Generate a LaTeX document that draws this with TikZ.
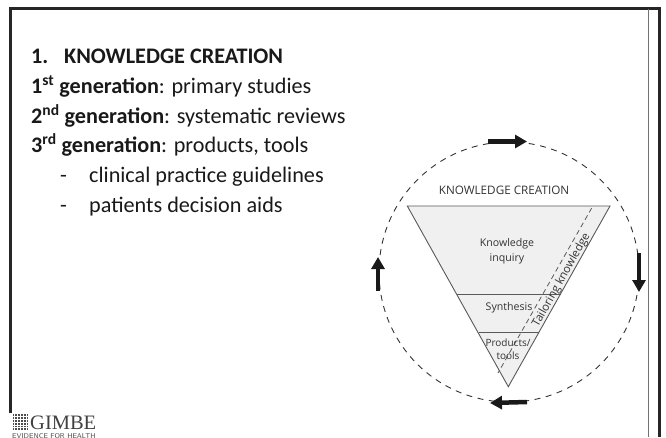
\documentclass[tikz,border=0pt]{standalone}
\usepackage{fontspec}
\setmainfont{Carlito}
\newfontfamily\figfont{Open Sans}
\newfontfamily\logofont{Liberation Serif}
\usetikzlibrary{arrows.meta}
\tikzset{
  x=1pt,y=-1pt,
  body/.style={anchor=base west,inner sep=0pt,font=\fontsize{22.2}{26}\selectfont,text=black!90},
  figlabel/.style={align=center,inner sep=0pt,text=black!80,font=\figfont\fontsize{10.6}{14.5}\selectfont},
  part/.style={draw=black!65,line width=0.9pt},
  flow/.style={line width=4.5pt,-{Triangle[length=12pt,width=13pt]},black!90},
  frame/.style={line width=3pt,black!85}
}
\begin{document}
\begin{tikzpicture}
\useasboundingbox (0,0) rectangle (666,437);
\clip (0,0) rectangle (666,437);
\fill[white] (0,0) rectangle (666,437);
% frame
\draw[frame] (10.5,413) -- (10.5,8.5) -- (659,8.5) -- (659,437);
\draw[black!55,line width=1pt] (648.5,8.5) -- (648.5,437);
% text
\node[body] (t1) at (31,63) {\textbf{1.}};
\node[body] (t1b) at (64,63) {\textbf{KNOWLEDGE CREATION}};
\node[body] (t2) at (31,93) {\textbf{1\textsuperscript{st} generation}: primary studies};
\node[body] (t3) at (31,123) {\textbf{2\textsuperscript{nd} generation}: systematic reviews};
\node[body] (t4) at (31,152) {\textbf{3\textsuperscript{rd} generation}: products, tools};
\node[body] (d1) at (60,182) {-};
\node[body] (t5) at (89,182) {clinical practice guidelines};
\node[body] (d2) at (60,212) {-};
\node[body] (t6) at (89,212) {patients decision aids};
% circle
\coordinate (c) at (509,272);
\draw[black!80,line width=0.9pt,dash pattern=on 6pt off 5.5pt] (c) circle[radius=130];
% triangle
\coordinate (tl) at (407.3,206);
\coordinate (tr) at (610,206);
\coordinate (ap) at (508.3,386.7);
\filldraw[fill=black!6,draw=black!65,line width=0.9pt] (tl) -- (tr) -- (ap) -- cycle;
\coordinate (a1) at (457,294); \coordinate (a2) at (560.5,294);
\coordinate (b1) at (479,332); \coordinate (b2) at (539,332);
\draw[part] (a1) -- (a2);
\draw[part] (b1) -- (b2);
\coordinate (d0) at (591.7,208); \coordinate (d3) at (498,373);
\draw[black!65,line width=0.8pt,dash pattern=on 5pt off 3.5pt] (d0) -- (d3);
% labels
\node[figlabel,font=\figfont\fontsize{11.7}{13}\selectfont] (kc) at (504,190) {KNOWLEDGE CREATION};
\node[figlabel] (ki) at (507,251) {Knowledge\\inquiry};
\node[figlabel] (sy) at (509,308) {Synthesis};
\node[figlabel,font=\figfont\fontsize{10}{13.5}\selectfont] (pt) at (508,349) {Products/\\tools};
\node[figlabel,rotate=60.6,font=\figfont\fontsize{11.4}{12}\selectfont] (tk) at (561.5,280) {Tailoring knowledge};
% arrows
\coordinate (f1) at (488,141.5); \coordinate (f2) at (527,141.5);
\coordinate (r1) at (639,253); \coordinate (r2) at (639,292);
\coordinate (b3) at (527,402); \coordinate (b4) at (490,403);
\coordinate (l1) at (378,291); \coordinate (l2) at (378,257);
\draw[flow] (f1) -- (f2);
\draw[flow] (r1) -- (r2);
\draw[flow] (b3) -- (b4);
\draw[flow] (l1) -- (l2);
% logo
\fill[black!70] (12.5,414) rectangle (27.5,429.5);
\foreach \i in {0,...,4}{
  \draw[white,line width=0.5pt] (12.5,{416.4+\i*2.8}) -- (27.5,{416.4+\i*2.8});
  \draw[white,line width=0.5pt] ({14.6+\i*2.8},414) -- ({14.6+\i*2.8},429.5);
}
\node[anchor=base west,inner sep=0pt,text=black!75,font=\logofont\fontsize{20.5}{22}\selectfont] (logo) at (30,429) {GIMBE};
\node[anchor=base west,inner sep=0pt,text=black!70,font=\sffamily\fontsize{7}{8}\selectfont\addfontfeature{LetterSpace=12}] (sub) at (12,438.5) {EVIDENCE FOR HEALTH};
\end{tikzpicture}
\end{document}
